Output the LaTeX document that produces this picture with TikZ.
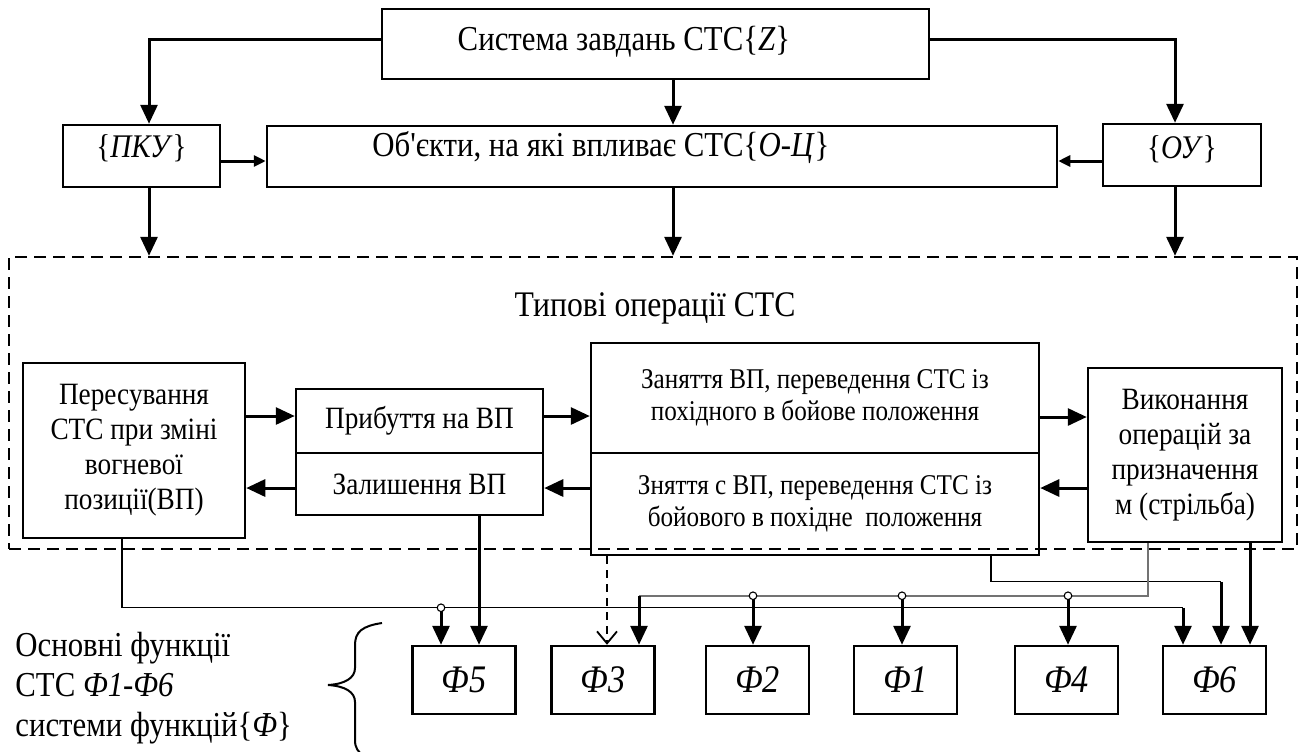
\documentclass[tikz,border=0pt]{standalone}
\usepackage{fontspec}
\setmainfont{Liberation Serif}[FakeStretch=0.88]
\newfontfamily\plainap{Liberation Serif}[FakeStretch=0.88, Ligatures=TeXOff]
\usetikzlibrary{arrows.meta,calc}
\tikzset{
  box/.style={draw, line width=1.25pt, inner sep=0pt, align=center},
  fbox/.style={box, minimum width=51.5pt, minimum height=34pt, font=\fontsize{19.5}{22}\selectfont\itshape},
  big/.style={line width=1.5pt, -{Triangle[length=9.5pt,width=8.5pt]}},
  small/.style={line width=1.5pt, -{Triangle[length=6pt,width=5.5pt]}},
  wire/.style={line width=0.6pt},
  busb/.style={line width=0.8pt, draw=black!55},
  jdot/.style={line width=0.55pt, fill=white},
  txtA/.style={font=\fontsize{17.5}{20}\selectfont, inner sep=0pt},
  txtB/.style={font=\fontsize{15.5}{17.5}\selectfont},
  txtC/.style={font=\fontsize{14.3}{16.2}\selectfont},
}
\begin{document}
\begin{tikzpicture}[x=0.5pt,y=-0.5pt]
\useasboundingbox (0,0) rectangle (1300,751);
% top level
\node[box, minimum width=273.5pt, minimum height=35pt] (sz) at (655.5,44) {};
\node[txtA] (szt) at (624,42) {Система завдань СТС\{\textit{Z}\}};
\node[box, minimum width=78.5pt, minimum height=31pt] (pku) at (141.5,156) {};
\node[txtA, font=\fontsize{16.5}{19}\selectfont] (pkut) at (141.5,148) {\{\textit{ПКУ}\}};
\node[box, minimum width=395pt, minimum height=30.5pt] (obj) at (662,156.5) {};
\node[txtA, anchor=west] (objt) at (372,148) {Об{\plainap'}єкти, на які впливає СТС\{\textit{О-Ц}\}};
\node[box, minimum width=79pt, minimum height=31pt] (ou) at (1182,155) {};
\node[txtA, font=\fontsize{16.5}{19}\selectfont] (out) at (1182,149) {\{\textit{ОУ}\}};
% dashed frame
\node[draw, line width=1.2pt, dash pattern=on 6pt off 3.5pt, inner sep=0pt, minimum width=644pt, minimum height=146pt] (typ) at (653,403) {};
\node[txtA, font=\fontsize{18}{20}\selectfont] (typt) at (655,308) {Типові операції СТС};
% operations
\node[box, txtB, minimum width=111pt, minimum height=87.5pt] (per) at (134,450.5) {Пересування\\СТС при зміні\\вогневої\\позиції(ВП)};
\node[box, txtB, minimum width=123.5pt, minimum height=32pt] (arr) at (419.5,421) {Прибуття на ВП};
\node[box, txtB, minimum width=123.5pt, minimum height=31pt] (lea) at (419.5,484) {Залишення ВП};
\node[box, txtC, minimum width=224pt, minimum height=55pt] (occ) at (815,398) {Заняття ВП, переведення СТС із\\похідного в бойове положення};
\node[box, txtC, minimum width=224pt, minimum height=51pt] (rem) at (815,504) {Зняття с ВП, переведення СТС із\\бойового в похідне\ \ положення};
\node[box, txtB, minimum width=97pt, minimum height=87pt] (exe) at (1185,455) {Виконання\\операцій за\\призначення\\м (стрільба)};
% functions
\node[fbox] (f5) at (464,680) {Ф5};
\node[fbox] (f3) at (603,680) {Ф3};
\node[fbox] (f2) at (757.5,680) {Ф2};
\node[fbox] (f1) at (905.5,680) {Ф1};
\node[fbox] (f4) at (1066.5,680) {Ф4};
\node[fbox] (f6) at (1214.5,680) {Ф6};
\node[anchor=west, align=left, inner sep=0pt, font=\fontsize{17.5}{20}\selectfont] (fl) at (15,688) {Основні функції\\СТС \textit{Ф1-Ф6}\\системи функцій\{\textit{Ф}\}};
% brace
\draw[line width=1pt] (382,623) .. controls (362,626) and (355,632) .. (355,645)
  -- (355,668) .. controls (355,678) and (345,684) .. (328,685)
  .. controls (345,686) and (355,692) .. (355,702) -- (355,740)
  .. controls (355,748) and (358,752) .. (364,756);
% top connectors
\draw[big] ($(sz.west)+(0,-5)$) -| ($(pku.north)+(7.5,0)$);
\draw[big] ($(sz.east)+(0,-5)$) -| ($(ou.north)+(-7,0)$);
\draw[big] ($(sz.south)+(17.5,0)$) coordinate (s1) -- (s1 |- obj.north);
\draw[small] ($(pku.east)+(0,5)$) coordinate (p1) -- (p1 -| obj.west);
\draw[small] ($(ou.west)+(0,6)$) coordinate (q1) -- (q1 -| obj.east);
\draw[big] ($(pku.south)+(7.5,0)$) coordinate (a1) -- (a1 |- typ.north);
\draw[big] ($(obj.south)+(11,0)$) coordinate (a2) -- (a2 |- typ.north);
\draw[big] ($(ou.south)+(-7,0)$) coordinate (a3) -- (a3 |- typ.north);
% operation connectors
\draw[big] ($(per.east)+(0,-34.5)$) coordinate (r1) -- (r1 -| arr.west);
\draw[big] ($(arr.east)+(0,-5)$) coordinate (r2) -- (r2 -| occ.west);
\draw[big] ($(occ.east)+(0,19)$) coordinate (r3) -- (r3 -| exe.west);
\draw[big] ($(exe.west)+(0,33)$) coordinate (l1) -- (l1 -| rem.east);
\draw[big] ($(rem.west)+(0,-16)$) coordinate (l2) -- (l2 -| lea.east);
\draw[big] ($(lea.west)+(0,4)$) coordinate (l3) -- (l3 -| per.east);
% bottom wiring
\coordinate (A5) at ($(f5.north)+(-23,-37)$);
\coordinate (A6) at ($(f6.north)+(-31.5,-37)$);
\draw[wire] ($(per.south)+(-12,0)$) |- (A6);
\draw[big] (A6) -- (A6 |- f6.north);
\draw[big] (A5) -- (A5 |- f5.north);
\draw[jdot] (A5) circle (1.9pt);
\draw[big] ($(lea.south)+(59.5,0)$) coordinate (l5) -- (l5 |- f5.north);
\draw[line width=0.9pt, dash pattern=on 4pt off 3pt, -{Straight Barb[length=6pt,width=10pt]}] ($(rem.south)+(-208,0)$) coordinate (d3) -- (d3 |- f3.north);
\coordinate (B3) at ($(f3.north)+(36,-49)$);
\coordinate (B2) at ($(f2.north)+(-4.5,-49)$);
\coordinate (B1) at ($(f1.north)+(-3.5,-49)$);
\coordinate (B4) at ($(f4.north)+(1.5,-49)$);
\draw[wire] ($(rem.south)+(176,0)$) |- ($(f6.north)+(6.5,-63)$) coordinate (C6);
\draw[busb] ($(exe.south)+(-37,0)$) |- (B3);
\draw[big] (B3) -- (B3 |- f3.north);
\draw[big] (B2) -- (B2 |- f2.north);
\draw[big] (B1) -- (B1 |- f1.north);
\draw[big] (B4) -- (B4 |- f4.north);
\draw[jdot] (B2) circle (1.9pt);
\draw[jdot] (B1) circle (1.9pt);
\draw[jdot] (B4) circle (1.9pt);
\draw[big] (C6) -- (C6 |- f6.north);
\draw[big] ($(exe.south)+(65,0)$) coordinate (e6) -- (e6 |- f6.north);
\end{tikzpicture}
\end{document}
